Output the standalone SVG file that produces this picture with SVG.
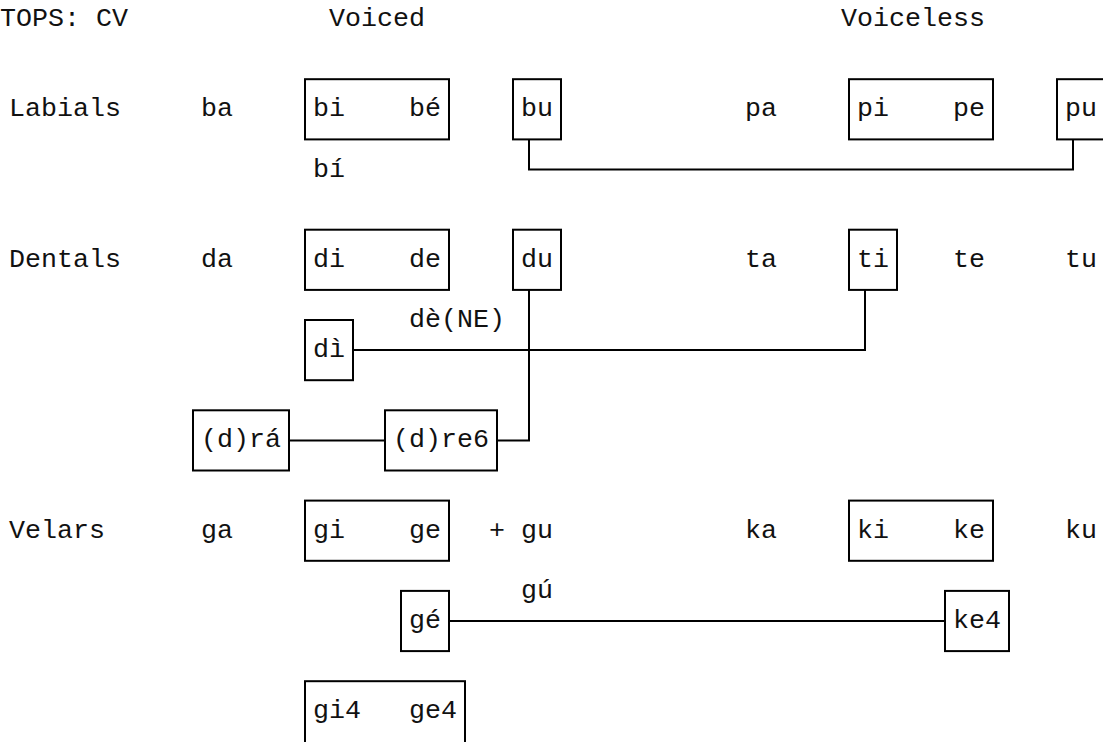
<svg xmlns="http://www.w3.org/2000/svg" width="1103" height="742" viewBox="0 0 1103 742">
<style>
text{font-family:"Liberation Mono","Courier New",monospace;font-size:26.67px;fill:#111}
.box{fill:none;stroke:#000;stroke-width:2}
.conn{fill:none;stroke:#000;stroke-width:2}
</style>
<rect width="1103" height="742" fill="#fff"/>
<g id="headers">
<text x="0" y="26">TOPS: CV</text>
<text x="329" y="26">Voiced</text>
<text x="841" y="26">Voiceless</text>
</g>
<g id="row-labels">
<text x="9" y="116.3">Labials</text>
<text x="9" y="266.8">Dentals</text>
<text x="9" y="537.7">Velars</text>
</g>
<g id="plain-syllables">
<text x="201" y="116.3">ba</text>
<text x="745" y="116.3">pa</text>
<text x="313" y="176.5">bí</text>
<text x="201" y="266.8">da</text>
<text x="745" y="266.8">ta</text>
<text x="953" y="266.8">te</text>
<text x="1065" y="266.8">tu</text>
<text x="409" y="327">dè(NE)</text>
<text x="201" y="537.7">ga</text>
<text x="489" y="537.7">+</text>
<text x="521" y="537.7">gu</text>
<text x="745" y="537.7">ka</text>
<text x="1065" y="537.7">ku</text>
<text x="521" y="597.9">gú</text>
</g>
<g id="connectors">
<path class="conn" d="M529,139.4 V169.5 H1073 V139.4"/>
<path class="conn" d="M865,289.9 V350.1 H353"/>
<path class="conn" d="M529,289.9 V440.4 H497"/>
<path class="conn" d="M289,440.4 H385"/>
<path class="conn" d="M449,621 H945"/>
</g>
<g id="box-bi-be"><rect class="box" x="305" y="79.2" width="144" height="60.2"/><text x="313" y="116.3">bi</text><text x="409" y="116.3">bé</text></g>
<g id="box-bu"><rect class="box" x="513" y="79.2" width="48" height="60.2"/><text x="521" y="116.3">bu</text></g>
<g id="box-pi-pe"><rect class="box" x="849" y="79.2" width="144" height="60.2"/><text x="857" y="116.3">pi</text><text x="953" y="116.3">pe</text></g>
<g id="box-pu"><rect class="box" x="1057" y="79.2" width="48" height="60.2"/><text x="1065" y="116.3">pu</text></g>
<g id="box-di-de"><rect class="box" x="305" y="229.7" width="144" height="60.2"/><text x="313" y="266.8">di</text><text x="409" y="266.8">de</text></g>
<g id="box-du"><rect class="box" x="513" y="229.7" width="48" height="60.2"/><text x="521" y="266.8">du</text></g>
<g id="box-ti"><rect class="box" x="849" y="229.7" width="48" height="60.2"/><text x="857" y="266.8">ti</text></g>
<g id="box-di-grave"><rect class="box" x="305" y="320" width="48" height="60.2"/><text x="313" y="357.1">dì</text></g>
<g id="box-dra"><rect class="box" x="193" y="410.3" width="96" height="60.2"/><text x="201" y="447.4">(d)rá</text></g>
<g id="box-dre6"><rect class="box" x="385" y="410.3" width="112" height="60.2"/><text x="393" y="447.4">(d)re6</text></g>
<g id="box-gi-ge"><rect class="box" x="305" y="500.6" width="144" height="60.2"/><text x="313" y="537.7">gi</text><text x="409" y="537.7">ge</text></g>
<g id="box-ki-ke"><rect class="box" x="849" y="500.6" width="144" height="60.2"/><text x="857" y="537.7">ki</text><text x="953" y="537.7">ke</text></g>
<g id="box-ge-acute"><rect class="box" x="401" y="590.9" width="48" height="60.2"/><text x="409" y="628">gé</text></g>
<g id="box-ke4"><rect class="box" x="945" y="590.9" width="64" height="60.2"/><text x="953" y="628">ke4</text></g>
<g id="box-gi4-ge4"><rect class="box" x="305" y="681.2" width="160" height="62.5"/><text x="313" y="718.3">gi4</text><text x="409" y="718.3">ge4</text></g>
</svg>
